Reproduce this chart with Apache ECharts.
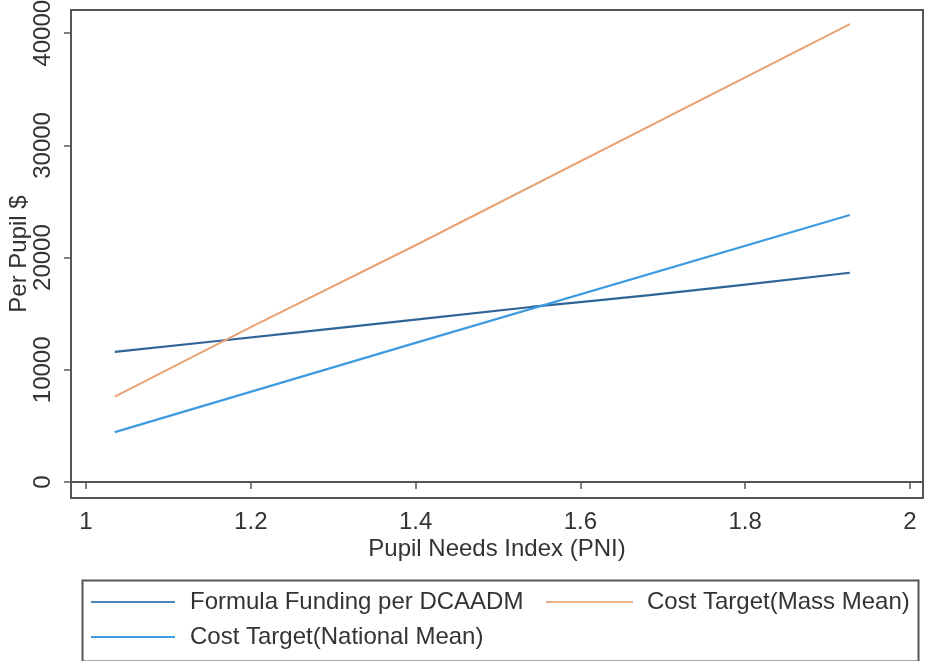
<!DOCTYPE html>
<html>
<head>
<meta charset="utf-8">
<script src="https://cdn.jsdelivr.net/npm/echarts@6/dist/echarts.min.js"></script>
<style>
html,body{margin:0;padding:0;background:#fff;}
#chart{width:925px;height:661px;}
</style>
</head>
<body>
<div id="chart"></div>
<script>
// Data
const seriesNames = ["Formula Funding per DCAADM", "Cost Target(Mass Mean)", "Cost Target(National Mean)"];
const formulaFunding = [[1.035, 11600], [1.26, 13350], [1.54, 15600], [1.684, 16650], [1.927, 18650]];
const massMean = [[1.035, 7600], [1.2, 13800], [1.4, 21100], [1.927, 40800]];
const nationalMean = [[1.035, 4450], [1.4, 12400], [1.927, 23800]];
const xTicks = [1, 1.2, 1.4, 1.6, 1.8, 2];
const yTicks = [0, 10000, 20000, 30000, 40000];

const FONT = "'Liberation Sans', Arial, sans-serif";
const TXT = '#333';
const AX = '#555';
const FS = 24;

const chart = echarts.init(document.getElementById('chart'));
chart.setOption({
  animation: false,
  backgroundColor: '#fff',
  grid: {
    left: 71, top: 10, right: 2, bottom: 163,
    outerBoundsMode: 'none', containLabel: false,
    show: true, borderColor: AX, borderWidth: 2, backgroundColor: '#fff'
  },
  xAxis: {
    type: 'value', min: 0.9818, max: 2.0158,
    name: 'Pupil Needs Index (PNI)', nameLocation: 'middle', nameGap: 39, nameMoveOverlap: false,
    nameTextStyle: { fontFamily: FONT, fontSize: FS, color: TXT },
    axisLine: { show: true, lineStyle: { color: AX, width: 2 } },
    axisTick: { show: true, length: 7, customValues: xTicks, lineStyle: { color: AX, width: 1.5 } },
    axisLabel: { customValues: xTicks, margin: 12, fontFamily: FONT, fontSize: FS, color: TXT,
      formatter: v => String(+Number(v).toFixed(1)) },
    splitLine: { show: false }
  },
  yAxis: {
    type: 'value', min: -1426, max: 42068,
    name: 'Per Pupil $', nameLocation: 'middle', nameGap: 40, nameMoveOverlap: false,
    nameTextStyle: { fontFamily: FONT, fontSize: FS, color: TXT },
    axisLine: { show: true, lineStyle: { color: AX, width: 2 } },
    axisTick: { show: true, length: 7, customValues: yTicks, lineStyle: { color: AX, width: 1.5 } },
    axisLabel: { customValues: yTicks, rotate: 90, margin: 16, fontFamily: FONT, fontSize: FS, color: TXT,
      formatter: v => String(Math.round(v)) },
    splitLine: { show: false }
  },
  legend: [
    { data: [seriesNames[0]], left: 91, top: 590, padding: 0, icon: 'rect', itemWidth: 84, itemHeight: 2,
      textStyle: { fontFamily: FONT, fontSize: FS, color: TXT, padding: [0, 0, 0, 10] } },
    { data: [seriesNames[1]], left: 546, top: 590, padding: 0, icon: 'rect', itemWidth: 87, itemHeight: 2,
      textStyle: { fontFamily: FONT, fontSize: FS, color: TXT, padding: [0, 0, 0, 9] } },
    { data: [seriesNames[2]], left: 91, top: 625, padding: 0, icon: 'rect', itemWidth: 84, itemHeight: 2,
      textStyle: { fontFamily: FONT, fontSize: FS, color: TXT, padding: [0, 0, 0, 10] } }
  ],
  graphic: [{
    type: 'rect', left: 80, top: 578,
    shape: { width: 836, height: 81 },
    style: { fill: 'none', stroke: AX, lineWidth: 2 }, z: -1
  }],
  series: [
    { name: seriesNames[0], type: 'line', data: formulaFunding, symbol: 'none', smooth: 0.3,
      lineStyle: { color: '#2f6496', width: 2.2 }, itemStyle: { color: '#4a86b8' } },
    { name: seriesNames[1], type: 'line', data: massMean, symbol: 'none',
      lineStyle: { color: '#e9a273', width: 2 }, itemStyle: { color: '#eeb088' } },
    { name: seriesNames[2], type: 'line', data: nationalMean, symbol: 'none',
      lineStyle: { color: '#3d9be0', width: 2.2 }, itemStyle: { color: '#3d9be0' } }
  ]
});
</script>
</body>
</html>
